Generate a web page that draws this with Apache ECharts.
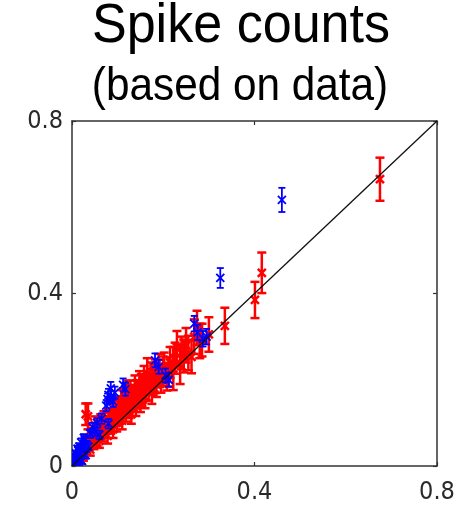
<!DOCTYPE html>
<html>
<head>
<meta charset="utf-8">
<script src="https://cdn.jsdelivr.net/npm/echarts@6/dist/echarts.min.js"></script>
<style>html,body{margin:0;padding:0;background:#fff}#c{width:467px;height:509px}</style>
</head>
<body>
<div id="c"></div>
<script>
// ---- data ----
const titleText = "Spike counts";
const subtitleText = "(based on data)";
const axisTicks = [0, 0.4, 0.8];
const diagLine = [0, 0.8];

const blueX = [0.002,0.004,0.006,0.008,0.010,0.012,0.014,0.016,0.018,0.020,0.024,0.028,0.032,0.040,0.045,0.050,0.055,0.060,0.065,0.075,0.080,0.085,0.090,0.112,0.182,0.190,0.205,0.212,0.268,0.275,0.287,0.295,0.325,0.460,0.030,0.008,0.022,0.005,0.012,0.026,0.036,0.015,0.078,0.086,0.094,0.117,0.080];
const blueY = [0.004,0.010,0.018,0.006,0.025,0.015,0.035,0.045,0.028,0.055,0.040,0.060,0.050,0.075,0.090,0.080,0.100,0.072,0.110,0.140,0.165,0.180,0.150,0.188,0.245,0.230,0.210,0.200,0.330,0.310,0.295,0.300,0.436,0.617,0.025,0.030,0.012,0.022,0.040,0.065,0.045,0.008,0.155,0.160,0.170,0.178,0.098];
const blueErr = [0.004,0.005,0.006,0.005,0.007,0.006,0.008,0.008,0.007,0.009,0.008,0.009,0.008,0.010,0.010,0.010,0.011,0.010,0.012,0.013,0.014,0.015,0.013,0.015,0.016,0.016,0.016,0.016,0.018,0.018,0.018,0.018,0.023,0.028,0.008,0.006,0.007,0.006,0.007,0.009,0.008,0.006,0.013,0.014,0.014,0.015,0.011];

const redX = [0.005,0.008,0.012,0.015,0.018,0.022,0.025,0.028,0.030,0.035,0.038,0.040,0.045,0.048,0.050,0.055,0.058,0.060,0.065,0.068,0.070,0.075,0.078,0.080,0.085,0.088,0.090,0.095,0.098,0.100,0.105,0.108,0.110,0.115,0.118,0.120,0.125,0.128,0.130,0.135,0.138,0.140,0.145,0.148,0.150,0.155,0.158,0.160,0.165,0.168,0.172,0.175,0.180,0.185,0.190,0.195,0.200,0.208,0.215,0.222,0.230,0.237,0.245,0.255,0.262,0.274,0.280,0.300,0.335,0.401,0.416,0.675,
  0.042,0.052,0.062,0.072,0.082,0.092,0.102,0.112,0.122,0.132,0.142,0.152,0.162,0.172,0.182,0.192,0.202,0.212,0.226,0.240,0.250,0.268,0.285,0.033,0.063,0.093,0.123,0.153,0.183,0.113];
const redY = [0.006,0.012,0.010,0.022,0.015,0.030,0.024,0.040,0.120,0.115,0.052,0.038,0.070,0.055,0.095,0.065,0.080,0.058,0.090,0.075,0.105,0.085,0.070,0.110,0.095,0.125,0.085,0.115,0.100,0.135,0.120,0.150,0.105,0.140,0.125,0.160,0.135,0.170,0.120,0.155,0.180,0.140,0.165,0.190,0.150,0.175,0.200,0.160,0.215,0.180,0.195,0.170,0.205,0.190,0.225,0.200,0.220,0.207,0.240,0.226,0.275,0.235,0.255,0.262,0.253,0.320,0.290,0.305,0.325,0.385,0.448,0.665,
  0.060,0.075,0.085,0.095,0.102,0.112,0.128,0.138,0.145,0.162,0.172,0.185,0.180,0.210,0.200,0.215,0.230,0.218,0.250,0.262,0.280,0.300,0.292,0.050,0.100,0.130,0.170,0.168,0.215,0.155];
const redErr = [0.006,0.008,0.008,0.010,0.010,0.012,0.012,0.014,0.025,0.030,0.015,0.014,0.018,0.016,0.020,0.018,0.020,0.016,0.020,0.018,0.022,0.020,0.018,0.022,0.020,0.024,0.020,0.022,0.020,0.025,0.022,0.026,0.020,0.025,0.022,0.028,0.024,0.028,0.022,0.026,0.030,0.024,0.028,0.030,0.025,0.028,0.032,0.026,0.035,0.028,0.030,0.026,0.032,0.030,0.035,0.030,0.034,0.032,0.036,0.050,0.038,0.045,0.038,0.040,0.038,0.040,0.040,0.040,0.042,0.042,0.047,0.050,
  0.016,0.018,0.019,0.020,0.021,0.022,0.023,0.024,0.025,0.026,0.027,0.028,0.029,0.030,0.031,0.032,0.033,0.034,0.036,0.038,0.040,0.040,0.038,0.015,0.020,0.024,0.028,0.030,0.032,0.025];

// ---- build ----
function zip(xs, ys, es) { return xs.map((x, i) => [x, ys[i], es[i]]); }

function errRender(color, lw, cap, mk) {
  return function (params, api) {
    const x = api.value(0), y = api.value(1), e = api.value(2);
    const c = api.coord([x, y]);
    const t = api.coord([x, y + e]);
    const b = api.coord([x, y - e]);
    const st = { stroke: color, lineWidth: lw, fill: null };
    const L = (x1, y1, x2, y2) => ({ type: 'line', shape: { x1, y1, x2, y2 }, style: st });
    return {
      type: 'group',
      children: [
        L(c[0], t[1], c[0], b[1]),
        L(c[0] - cap, t[1], c[0] + cap, t[1]),
        L(c[0] - cap, b[1], c[0] + cap, b[1]),
        L(c[0] - mk, c[1] - mk, c[0] + mk, c[1] + mk),
        L(c[0] - mk, c[1] + mk, c[0] + mk, c[1] - mk)
      ]
    };
  };
}

const axCol = '#333';
const lblFont = { fontFamily: '"DejaVu Sans Condensed", "Liberation Sans", sans-serif', fontSize: 25, color: '#2a2a2a' };

function mkAxis(pos, show) {
  return {
    type: 'value', position: pos,
    min: axisTicks[0], max: axisTicks[axisTicks.length - 1], interval: axisTicks[1] - axisTicks[0],
    axisLine: { show: true, onZero: false, lineStyle: { color: axCol, width: 1.5 } },
    axisTick: { show: true, inside: true, length: 4, lineStyle: { color: axCol, width: 1.2 } },
    axisLabel: Object.assign({ show: show }, lblFont),
    splitLine: { show: false }
  };
}

const xMain = mkAxis('bottom', true); xMain.axisLabel.margin = 14;
const yMain = mkAxis('left', true); yMain.axisLabel.margin = 9;

const chart = echarts.init(document.getElementById('c'), null, { renderer: 'canvas' });
chart.setOption({
  animation: false,
  backgroundColor: '#fff',
  grid: { left: 72, right: 30, top: 121, bottom: 43, containLabel: false },
  xAxis: [xMain, mkAxis('top', false)],
  yAxis: [yMain, mkAxis('right', false)],
  graphic: [
    { type: 'text', x: 241, y: 27, scaleX: 0.93,
      style: { text: titleText, font: '56px "Liberation Sans", Arial, sans-serif', fill: '#000', align: 'center', verticalAlign: 'middle' } },
    { type: 'text', x: 240, y: 87, scaleX: 0.9,
      style: { text: subtitleText, font: '47px "Liberation Sans", Arial, sans-serif', fill: '#000', align: 'center', verticalAlign: 'middle' } }
  ],
  series: [
    { type: 'custom', name: 'red', xAxisIndex: 0, yAxisIndex: 0, clip: true,
      renderItem: errRender('#ff0000', 2.5, 4.5, 4), data: zip(redX, redY, redErr), z: 2 },
    { type: 'custom', name: 'blue', xAxisIndex: 0, yAxisIndex: 0, clip: true,
      renderItem: errRender('#0000ff', 1.8, 3.5, 4), data: zip(blueX, blueY, blueErr), z: 3 },
    { type: 'line', xAxisIndex: 0, yAxisIndex: 0, data: [[diagLine[0], diagLine[0]], [diagLine[1], diagLine[1]]],
      symbol: 'none', lineStyle: { color: '#111', width: 1.3 }, z: 4, silent: true }
  ]
});
</script>
</body>
</html>
